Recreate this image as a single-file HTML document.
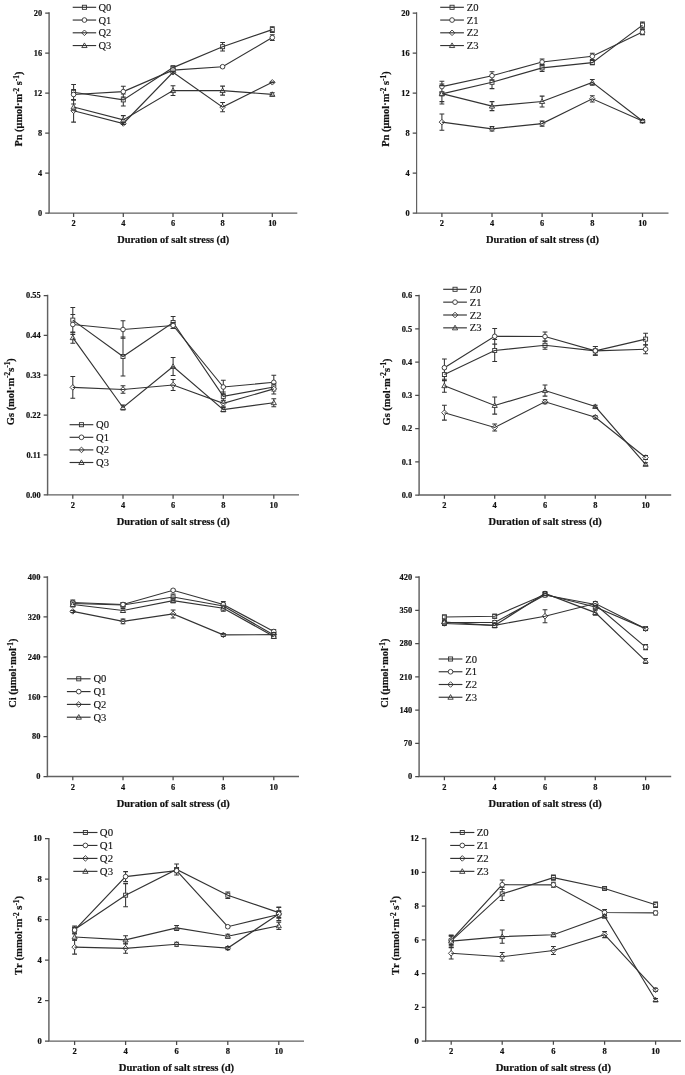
<!DOCTYPE html>
<html lang="en"><head><meta charset="utf-8"><title>Gas exchange under salt stress</title>
<style>
html,body{margin:0;padding:0;background:#fff}
body{width:685px;height:1075px;overflow:hidden}
svg{display:block}
text{font-family:"Liberation Serif","DejaVu Serif",serif;fill:#111}
.tk text{font-weight:bold;stroke:#111;stroke-width:0.2px}
.ti{font-weight:bold;stroke:#111;stroke-width:0.2px;font-kerning:none}
</style></head><body>
<svg width="685" height="1075" viewBox="0 0 685 1075">
<rect width="685" height="1075" fill="#fff"/>
<g stroke="#626262" stroke-width="1.45" fill="none">
<path d="M49.10 12.35V213.80M48.40 213.10H297.30"/>
</g>
<g stroke="#4a4a4a" stroke-width="1.25" fill="none">
<path d="M45.20 213.10H49.10M45.20 173.09H49.10M45.20 133.08H49.10M45.20 93.07H49.10M45.20 53.06H49.10M45.20 13.05H49.10M73.60 213.10V216.90M123.30 213.10V216.90M173.00 213.10V216.90M222.60 213.10V216.90M272.30 213.10V216.90"/></g>
<g class="tk" font-size="8.32">
<text x="42.10" y="215.90" text-anchor="end">0</text>
<text x="42.10" y="175.89" text-anchor="end">4</text>
<text x="42.10" y="135.88" text-anchor="end">8</text>
<text x="42.10" y="95.87" text-anchor="end">12</text>
<text x="42.10" y="55.86" text-anchor="end">16</text>
<text x="42.10" y="15.85" text-anchor="end">20</text>
<text x="73.60" y="226.40" text-anchor="middle">2</text>
<text x="123.30" y="226.40" text-anchor="middle">4</text>
<text x="173.00" y="226.40" text-anchor="middle">6</text>
<text x="222.60" y="226.40" text-anchor="middle">8</text>
<text x="272.30" y="226.40" text-anchor="middle">10</text>
</g>
<text class="ti" font-size="10.35" x="173.20" y="243.10" text-anchor="middle">Duration of salt stress (d)</text>
<text class="ti" font-size="10.35" transform="translate(21.70 109.10) rotate(-90)" text-anchor="middle">Pn (μmol·m<tspan dy="-3.1" font-size="7.3">-2</tspan><tspan dy="3.1"> s</tspan><tspan dy="-3.1" font-size="7.3">-1</tspan><tspan dy="3.1">)</tspan></text>
<path d="M73.60 84.40V100.20M123.30 93.90V105.90M173.00 66.80V68.40M222.60 42.40V51.00M272.30 26.80V32.40M73.60 89.50V99.50M123.30 86.30V96.90M173.00 69.10V71.10M222.60 65.70V67.70M272.30 34.70V40.50M73.60 99.50V122.10M123.30 122.50V124.50M173.00 71.50V73.10M222.60 102.40V111.80M272.30 81.90V82.70M73.60 103.90V110.10M123.30 115.60V124.20M173.00 85.80V95.40M222.60 86.10V95.10M272.30 92.80V96.00" stroke="#333" stroke-width="1.05" fill="none"/>
<g stroke="#333" stroke-width="0.9" fill="#fff"><rect x="71.60" y="90.30" width="4.00" height="4.00"/><rect x="121.30" y="97.90" width="4.00" height="4.00"/><rect x="171.00" y="65.60" width="4.00" height="4.00"/><rect x="220.60" y="44.70" width="4.00" height="4.00"/><rect x="270.30" y="27.60" width="4.00" height="4.00"/><rect x="82.38" y="5.25" width="4.10" height="4.10"/></g>
<polyline points="73.60,92.30 123.30,99.90 173.00,67.60 222.60,46.70 272.30,29.60" stroke="#333" stroke-width="1.15" fill="none"/><path d="M72.70 7.30h23.46" stroke="#333" stroke-width="1.15" fill="none"/>
<path d="M71.20 84.40h4.8M71.20 100.20h4.8M120.90 93.90h4.8M120.90 105.90h4.8M170.60 66.80h4.8M170.60 68.40h4.8M220.20 42.40h4.8M220.20 51.00h4.8M269.90 26.80h4.8M269.90 32.40h4.8" stroke="#333" stroke-width="1.05" fill="none"/>
<polyline points="73.60,94.50 123.30,91.60 173.00,70.10 222.60,66.70 272.30,37.60" stroke="#333" stroke-width="1.15" fill="none"/><path d="M72.70 20.05h23.46" stroke="#333" stroke-width="1.15" fill="none"/>
<path d="M71.20 89.50h4.8M71.20 99.50h4.8M120.90 86.30h4.8M120.90 96.90h4.8M170.60 69.10h4.8M170.60 71.10h4.8M220.20 65.70h4.8M220.20 67.70h4.8M269.90 34.70h4.8M269.90 40.50h4.8" stroke="#333" stroke-width="1.05" fill="none"/>
<g stroke="#333" stroke-width="0.9" fill="#fff"><circle cx="73.60" cy="94.50" r="2.30"/><circle cx="123.30" cy="91.60" r="2.30"/><circle cx="173.00" cy="70.10" r="2.30"/><circle cx="222.60" cy="66.70" r="2.30"/><circle cx="272.30" cy="37.60" r="2.30"/><circle cx="84.43" cy="20.05" r="2.35"/></g>
<g stroke="#333" stroke-width="0.9" fill="#fff"><path d="M70.85 110.80L73.60 108.05L76.35 110.80L73.60 113.55Z"/><path d="M120.55 123.50L123.30 120.75L126.05 123.50L123.30 126.25Z"/><path d="M170.25 72.30L173.00 69.55L175.75 72.30L173.00 75.05Z"/><path d="M219.85 107.10L222.60 104.35L225.35 107.10L222.60 109.85Z"/><path d="M269.55 82.30L272.30 79.55L275.05 82.30L272.30 85.05Z"/><path d="M81.63 32.80L84.43 30.00L87.23 32.80L84.43 35.60Z"/></g>
<polyline points="73.60,110.80 123.30,123.50 173.00,72.30 222.60,107.10 272.30,82.30" stroke="#333" stroke-width="1.15" fill="none"/><path d="M72.70 32.80h23.46" stroke="#333" stroke-width="1.15" fill="none"/>
<path d="M71.20 99.50h4.8M71.20 122.10h4.8M120.90 122.50h4.8M120.90 124.50h4.8M170.60 71.50h4.8M170.60 73.10h4.8M220.20 102.40h4.8M220.20 111.80h4.8M269.90 81.90h4.8M269.90 82.70h4.8" stroke="#333" stroke-width="1.05" fill="none"/>
<g stroke="#333" stroke-width="0.9" fill="#fff"><path d="M71.00 108.95L73.60 104.40L76.20 108.95Z"/><path d="M120.70 121.85L123.30 117.30L125.90 121.85Z"/><path d="M170.40 92.55L173.00 88.00L175.60 92.55Z"/><path d="M220.00 92.55L222.60 88.00L225.20 92.55Z"/><path d="M269.70 96.35L272.30 91.80L274.90 96.35Z"/><path d="M81.78 47.54L84.43 42.90L87.08 47.54Z"/></g>
<polyline points="73.60,107.00 123.30,119.90 173.00,90.60 222.60,90.60 272.30,94.40" stroke="#333" stroke-width="1.15" fill="none"/><path d="M72.70 45.55h23.46" stroke="#333" stroke-width="1.15" fill="none"/>
<path d="M71.20 103.90h4.8M71.20 110.10h4.8M120.90 115.60h4.8M120.90 124.20h4.8M170.60 85.80h4.8M170.60 95.40h4.8M220.20 86.10h4.8M220.20 95.10h4.8M269.90 92.80h4.8M269.90 96.00h4.8" stroke="#333" stroke-width="1.05" fill="none"/>
<g class="lg" stroke="#111" stroke-width="0.12" font-size="10.49">
<text x="98.44" y="10.80">Q0</text>
<text x="98.44" y="23.55">Q1</text>
<text x="98.44" y="36.30">Q2</text>
<text x="98.44" y="49.05">Q3</text>
</g>
<g stroke="#626262" stroke-width="1.2" fill="none">
<path d="M416.60 12.35V213.80M415.90 213.10H668.50"/>
</g>
<g stroke="#4a4a4a" stroke-width="1.25" fill="none">
<path d="M412.70 213.10H416.60M412.70 173.09H416.60M412.70 133.08H416.60M412.70 93.07H416.60M412.70 53.06H416.60M412.70 13.05H416.60M441.90 213.10V216.90M492.00 213.10V216.90M542.10 213.10V216.90M592.30 213.10V216.90M642.50 213.10V216.90"/></g>
<g class="tk" font-size="8.40">
<text x="409.60" y="215.90" text-anchor="end">0</text>
<text x="409.60" y="175.89" text-anchor="end">4</text>
<text x="409.60" y="135.88" text-anchor="end">8</text>
<text x="409.60" y="95.87" text-anchor="end">12</text>
<text x="409.60" y="55.86" text-anchor="end">16</text>
<text x="409.60" y="15.85" text-anchor="end">20</text>
<text x="441.90" y="226.40" text-anchor="middle">2</text>
<text x="492.00" y="226.40" text-anchor="middle">4</text>
<text x="542.10" y="226.40" text-anchor="middle">6</text>
<text x="592.30" y="226.40" text-anchor="middle">8</text>
<text x="642.50" y="226.40" text-anchor="middle">10</text>
</g>
<text class="ti" font-size="10.45" x="542.55" y="243.10" text-anchor="middle">Duration of salt stress (d)</text>
<text class="ti" font-size="10.45" transform="translate(388.60 109.10) rotate(-90)" text-anchor="middle">Pn (μmol·m<tspan dy="-3.1" font-size="7.3">-2</tspan><tspan dy="3.1"> s</tspan><tspan dy="-3.1" font-size="7.3">-1</tspan><tspan dy="3.1">)</tspan></text>
<path d="M441.90 83.90V103.90M492.00 76.00V88.60M542.10 64.40V71.40M592.30 60.40V64.80M642.50 22.10V28.10M441.90 81.30V91.90M492.00 71.70V79.70M542.10 58.90V65.10M592.30 53.20V59.40M642.50 29.60V34.60M441.90 114.00V130.20M492.00 126.60V131.00M542.10 121.10V126.10M592.30 95.70V101.90M642.50 119.50V122.50M441.90 85.60V101.60M492.00 101.60V110.60M542.10 96.10V106.90M592.30 79.50V85.30M642.50 119.50V122.50" stroke="#333" stroke-width="1.05" fill="none"/>
<g stroke="#333" stroke-width="0.9" fill="#fff"><rect x="439.90" y="91.90" width="4.00" height="4.00"/><rect x="490.00" y="80.30" width="4.00" height="4.00"/><rect x="540.10" y="65.90" width="4.00" height="4.00"/><rect x="590.30" y="60.60" width="4.00" height="4.00"/><rect x="640.50" y="23.10" width="4.00" height="4.00"/><rect x="450.00" y="5.25" width="4.10" height="4.10"/></g>
<polyline points="441.90,93.90 492.00,82.30 542.10,67.90 592.30,62.60 642.50,25.10" stroke="#333" stroke-width="1.15" fill="none"/><path d="M440.20 7.30h23.70" stroke="#333" stroke-width="1.15" fill="none"/>
<path d="M439.50 83.90h4.8M439.50 103.90h4.8M489.60 76.00h4.8M489.60 88.60h4.8M539.70 64.40h4.8M539.70 71.40h4.8M589.90 60.40h4.8M589.90 64.80h4.8M640.10 22.10h4.8M640.10 28.10h4.8" stroke="#333" stroke-width="1.05" fill="none"/>
<polyline points="441.90,86.60 492.00,75.70 542.10,62.00 592.30,56.30 642.50,32.10" stroke="#333" stroke-width="1.15" fill="none"/><path d="M440.20 20.05h23.70" stroke="#333" stroke-width="1.15" fill="none"/>
<path d="M439.50 81.30h4.8M439.50 91.90h4.8M489.60 71.70h4.8M489.60 79.70h4.8M539.70 58.90h4.8M539.70 65.10h4.8M589.90 53.20h4.8M589.90 59.40h4.8M640.10 29.60h4.8M640.10 34.60h4.8" stroke="#333" stroke-width="1.05" fill="none"/>
<g stroke="#333" stroke-width="0.9" fill="#fff"><circle cx="441.90" cy="86.60" r="2.30"/><circle cx="492.00" cy="75.70" r="2.30"/><circle cx="542.10" cy="62.00" r="2.30"/><circle cx="592.30" cy="56.30" r="2.30"/><circle cx="642.50" cy="32.10" r="2.30"/><circle cx="452.05" cy="20.05" r="2.35"/></g>
<g stroke="#333" stroke-width="0.9" fill="#fff"><path d="M439.15 122.10L441.90 119.35L444.65 122.10L441.90 124.85Z"/><path d="M489.25 128.80L492.00 126.05L494.75 128.80L492.00 131.55Z"/><path d="M539.35 123.60L542.10 120.85L544.85 123.60L542.10 126.35Z"/><path d="M589.55 98.80L592.30 96.05L595.05 98.80L592.30 101.55Z"/><path d="M639.75 121.00L642.50 118.25L645.25 121.00L642.50 123.75Z"/><path d="M449.25 32.80L452.05 30.00L454.85 32.80L452.05 35.60Z"/></g>
<polyline points="441.90,122.10 492.00,128.80 542.10,123.60 592.30,98.80 642.50,121.00" stroke="#333" stroke-width="1.15" fill="none"/><path d="M440.20 32.80h23.70" stroke="#333" stroke-width="1.15" fill="none"/>
<path d="M439.50 114.00h4.8M439.50 130.20h4.8M489.60 126.60h4.8M489.60 131.00h4.8M539.70 121.10h4.8M539.70 126.10h4.8M589.90 95.70h4.8M589.90 101.90h4.8M640.10 119.50h4.8M640.10 122.50h4.8" stroke="#333" stroke-width="1.05" fill="none"/>
<g stroke="#333" stroke-width="0.9" fill="#fff"><path d="M439.30 95.55L441.90 91.00L444.50 95.55Z"/><path d="M489.40 108.05L492.00 103.50L494.60 108.05Z"/><path d="M539.50 103.45L542.10 98.90L544.70 103.45Z"/><path d="M589.70 84.35L592.30 79.80L594.90 84.35Z"/><path d="M639.90 122.95L642.50 118.40L645.10 122.95Z"/><path d="M449.40 47.54L452.05 42.90L454.70 47.54Z"/></g>
<polyline points="441.90,93.60 492.00,106.10 542.10,101.50 592.30,82.40 642.50,121.00" stroke="#333" stroke-width="1.15" fill="none"/><path d="M440.20 45.55h23.70" stroke="#333" stroke-width="1.15" fill="none"/>
<path d="M439.50 85.60h4.8M439.50 101.60h4.8M489.60 101.60h4.8M489.60 110.60h4.8M539.70 96.10h4.8M539.70 106.90h4.8M589.90 79.50h4.8M589.90 85.30h4.8M640.10 119.50h4.8M640.10 122.50h4.8" stroke="#333" stroke-width="1.05" fill="none"/>
<g class="lg" stroke="#111" stroke-width="0.12" font-size="10.60">
<text x="466.70" y="10.80">Z0</text>
<text x="466.70" y="23.55">Z1</text>
<text x="466.70" y="36.30">Z2</text>
<text x="466.70" y="49.05">Z3</text>
</g>
<g stroke="#626262" stroke-width="1.45" fill="none">
<path d="M47.60 294.80V495.55M46.90 494.85H299.00"/>
</g>
<g stroke="#4a4a4a" stroke-width="1.25" fill="none">
<path d="M43.70 494.85H47.60M43.70 454.98H47.60M43.70 415.11H47.60M43.70 375.24H47.60M43.70 335.37H47.60M43.70 295.50H47.60M72.80 494.85V498.65M123.00 494.85V498.65M173.10 494.85V498.65M223.30 494.85V498.65M273.80 494.85V498.65"/></g>
<g class="tk" font-size="8.40">
<text x="40.60" y="497.65" text-anchor="end">0.00</text>
<text x="40.60" y="457.78" text-anchor="end">0.11</text>
<text x="40.60" y="417.91" text-anchor="end">0.22</text>
<text x="40.60" y="378.04" text-anchor="end">0.33</text>
<text x="40.60" y="338.17" text-anchor="end">0.44</text>
<text x="40.60" y="298.30" text-anchor="end">0.55</text>
<text x="72.80" y="508.15" text-anchor="middle">2</text>
<text x="123.00" y="508.15" text-anchor="middle">4</text>
<text x="173.10" y="508.15" text-anchor="middle">6</text>
<text x="223.30" y="508.15" text-anchor="middle">8</text>
<text x="273.80" y="508.15" text-anchor="middle">10</text>
</g>
<text class="ti" font-size="10.45" x="173.30" y="524.85" text-anchor="middle">Duration of salt stress (d)</text>
<text class="ti" font-size="10.45" transform="translate(13.50 391.65) rotate(-90)" text-anchor="middle">Gs (mol·m<tspan dy="-3.1" font-size="7.3">-2</tspan><tspan dy="3.1">s</tspan><tspan dy="-3.1" font-size="7.3">-1</tspan><tspan dy="3.1">)</tspan></text>
<path d="M72.80 307.50V332.70M123.00 337.00V376.00M173.10 316.50V328.50M223.30 391.90V400.90M273.80 383.00V391.00M72.80 314.50V334.50M123.00 320.70V338.30M173.10 322.50V328.50M223.30 380.30V393.70M273.80 375.30V389.30M72.80 376.50V398.30M123.00 385.70V393.30M173.10 379.50V390.50M223.30 400.30V406.30M273.80 383.90V393.90M72.80 332.10V343.30M123.00 405.00V410.00M173.10 357.50V375.50M223.30 407.60V411.60M273.80 398.70V406.70" stroke="#333" stroke-width="1.05" fill="none"/>
<g stroke="#333" stroke-width="0.9" fill="#fff"><rect x="70.80" y="318.10" width="4.00" height="4.00"/><rect x="121.00" y="354.50" width="4.00" height="4.00"/><rect x="171.10" y="320.50" width="4.00" height="4.00"/><rect x="221.30" y="394.40" width="4.00" height="4.00"/><rect x="271.80" y="385.00" width="4.00" height="4.00"/><rect x="79.40" y="422.65" width="4.10" height="4.10"/></g>
<polyline points="72.80,320.10 123.00,356.50 173.10,322.50 223.30,396.40 273.80,387.00" stroke="#333" stroke-width="1.15" fill="none"/><path d="M69.60 424.70h23.70" stroke="#333" stroke-width="1.15" fill="none"/>
<path d="M70.40 307.50h4.8M70.40 332.70h4.8M120.60 337.00h4.8M120.60 376.00h4.8M170.70 316.50h4.8M170.70 328.50h4.8M220.90 391.90h4.8M220.90 400.90h4.8M271.40 383.00h4.8M271.40 391.00h4.8" stroke="#333" stroke-width="1.05" fill="none"/>
<polyline points="72.80,324.50 123.00,329.50 173.10,325.50 223.30,387.00 273.80,382.30" stroke="#333" stroke-width="1.15" fill="none"/><path d="M69.60 437.30h23.70" stroke="#333" stroke-width="1.15" fill="none"/>
<path d="M70.40 314.50h4.8M70.40 334.50h4.8M120.60 320.70h4.8M120.60 338.30h4.8M170.70 322.50h4.8M170.70 328.50h4.8M220.90 380.30h4.8M220.90 393.70h4.8M271.40 375.30h4.8M271.40 389.30h4.8" stroke="#333" stroke-width="1.05" fill="none"/>
<g stroke="#333" stroke-width="0.9" fill="#fff"><circle cx="72.80" cy="324.50" r="2.30"/><circle cx="123.00" cy="329.50" r="2.30"/><circle cx="173.10" cy="325.50" r="2.30"/><circle cx="223.30" cy="387.00" r="2.30"/><circle cx="273.80" cy="382.30" r="2.30"/><circle cx="81.45" cy="437.30" r="2.35"/></g>
<g stroke="#333" stroke-width="0.9" fill="#fff"><path d="M70.05 387.40L72.80 384.65L75.55 387.40L72.80 390.15Z"/><path d="M120.25 389.50L123.00 386.75L125.75 389.50L123.00 392.25Z"/><path d="M170.35 385.00L173.10 382.25L175.85 385.00L173.10 387.75Z"/><path d="M220.55 403.30L223.30 400.55L226.05 403.30L223.30 406.05Z"/><path d="M271.05 388.90L273.80 386.15L276.55 388.90L273.80 391.65Z"/><path d="M78.65 449.90L81.45 447.10L84.25 449.90L81.45 452.70Z"/></g>
<polyline points="72.80,387.40 123.00,389.50 173.10,385.00 223.30,403.30 273.80,388.90" stroke="#333" stroke-width="1.15" fill="none"/><path d="M69.60 449.90h23.70" stroke="#333" stroke-width="1.15" fill="none"/>
<path d="M70.40 376.50h4.8M70.40 398.30h4.8M120.60 385.70h4.8M120.60 393.30h4.8M170.70 379.50h4.8M170.70 390.50h4.8M220.90 400.30h4.8M220.90 406.30h4.8M271.40 383.90h4.8M271.40 393.90h4.8" stroke="#333" stroke-width="1.05" fill="none"/>
<g stroke="#333" stroke-width="0.9" fill="#fff"><path d="M70.20 339.65L72.80 335.10L75.40 339.65Z"/><path d="M120.40 409.45L123.00 404.90L125.60 409.45Z"/><path d="M170.50 368.45L173.10 363.90L175.70 368.45Z"/><path d="M220.70 411.55L223.30 407.00L225.90 411.55Z"/><path d="M271.20 404.65L273.80 400.10L276.40 404.65Z"/><path d="M78.80 464.49L81.45 459.85L84.10 464.49Z"/></g>
<polyline points="72.80,337.70 123.00,407.50 173.10,366.50 223.30,409.60 273.80,402.70" stroke="#333" stroke-width="1.15" fill="none"/><path d="M69.60 462.50h23.70" stroke="#333" stroke-width="1.15" fill="none"/>
<path d="M70.40 332.10h4.8M70.40 343.30h4.8M120.60 405.00h4.8M120.60 410.00h4.8M170.70 357.50h4.8M170.70 375.50h4.8M220.90 407.60h4.8M220.90 411.60h4.8M271.40 398.70h4.8M271.40 406.70h4.8" stroke="#333" stroke-width="1.05" fill="none"/>
<g class="lg" stroke="#111" stroke-width="0.12" font-size="10.60">
<text x="96.10" y="428.20">Q0</text>
<text x="96.10" y="440.80">Q1</text>
<text x="96.10" y="453.40">Q2</text>
<text x="96.10" y="466.00">Q3</text>
</g>
<g stroke="#626262" stroke-width="1.45" fill="none">
<path d="M419.10 294.80V495.70M418.40 495.00H671.20"/>
</g>
<g stroke="#4a4a4a" stroke-width="1.25" fill="none">
<path d="M415.20 495.00H419.10M415.20 461.75H419.10M415.20 428.50H419.10M415.20 395.25H419.10M415.20 362.00H419.10M415.20 328.75H419.10M415.20 295.50H419.10M444.40 495.00V498.80M494.70 495.00V498.80M545.00 495.00V498.80M595.30 495.00V498.80M645.60 495.00V498.80"/></g>
<g class="tk" font-size="8.40">
<text x="412.10" y="497.80" text-anchor="end">0.0</text>
<text x="412.10" y="464.55" text-anchor="end">0.1</text>
<text x="412.10" y="431.30" text-anchor="end">0.2</text>
<text x="412.10" y="398.05" text-anchor="end">0.3</text>
<text x="412.10" y="364.80" text-anchor="end">0.4</text>
<text x="412.10" y="331.55" text-anchor="end">0.5</text>
<text x="412.10" y="298.30" text-anchor="end">0.6</text>
<text x="444.40" y="508.30" text-anchor="middle">2</text>
<text x="494.70" y="508.30" text-anchor="middle">4</text>
<text x="545.00" y="508.30" text-anchor="middle">6</text>
<text x="595.30" y="508.30" text-anchor="middle">8</text>
<text x="645.60" y="508.30" text-anchor="middle">10</text>
</g>
<text class="ti" font-size="10.45" x="545.15" y="525.00" text-anchor="middle">Duration of salt stress (d)</text>
<text class="ti" font-size="10.45" transform="translate(389.50 391.95) rotate(-90)" text-anchor="middle">Gs (mol·m<tspan dy="-3.1" font-size="7.3">-2</tspan><tspan dy="3.1">s</tspan><tspan dy="-3.1" font-size="7.3">-1</tspan><tspan dy="3.1">)</tspan></text>
<path d="M444.40 368.60V380.60M494.70 339.50V361.50M545.00 341.30V349.30M595.30 346.50V355.10M645.60 333.20V345.00M444.40 358.90V376.50M494.70 328.50V344.10M545.00 332.00V341.00M595.30 346.50V355.10M645.60 344.70V353.70M444.40 405.30V420.10M494.70 424.00V431.00M545.00 399.80V403.80M595.30 415.70V418.70M645.60 455.50V459.50M444.40 379.20V392.20M494.70 396.90V414.10M545.00 384.90V396.10M595.30 405.30V407.70M645.60 462.80V465.80" stroke="#333" stroke-width="1.05" fill="none"/>
<g stroke="#333" stroke-width="0.9" fill="#fff"><rect x="442.40" y="372.60" width="4.00" height="4.00"/><rect x="492.70" y="348.50" width="4.00" height="4.00"/><rect x="543.00" y="343.30" width="4.00" height="4.00"/><rect x="593.30" y="348.80" width="4.00" height="4.00"/><rect x="643.60" y="337.10" width="4.00" height="4.00"/><rect x="453.00" y="287.25" width="4.10" height="4.10"/></g>
<polyline points="444.40,374.60 494.70,350.50 545.00,345.30 595.30,350.80 645.60,339.10" stroke="#333" stroke-width="1.15" fill="none"/><path d="M443.20 289.30h23.70" stroke="#333" stroke-width="1.15" fill="none"/>
<path d="M442.00 368.60h4.8M442.00 380.60h4.8M492.30 339.50h4.8M492.30 361.50h4.8M542.60 341.30h4.8M542.60 349.30h4.8M592.90 346.50h4.8M592.90 355.10h4.8M643.20 333.20h4.8M643.20 345.00h4.8" stroke="#333" stroke-width="1.05" fill="none"/>
<polyline points="444.40,367.70 494.70,336.30 545.00,336.50 595.30,350.80 645.60,349.20" stroke="#333" stroke-width="1.15" fill="none"/><path d="M443.20 302.15h23.70" stroke="#333" stroke-width="1.15" fill="none"/>
<path d="M442.00 358.90h4.8M442.00 376.50h4.8M492.30 328.50h4.8M492.30 344.10h4.8M542.60 332.00h4.8M542.60 341.00h4.8M592.90 346.50h4.8M592.90 355.10h4.8M643.20 344.70h4.8M643.20 353.70h4.8" stroke="#333" stroke-width="1.05" fill="none"/>
<g stroke="#333" stroke-width="0.9" fill="#fff"><circle cx="444.40" cy="367.70" r="2.30"/><circle cx="494.70" cy="336.30" r="2.30"/><circle cx="545.00" cy="336.50" r="2.30"/><circle cx="595.30" cy="350.80" r="2.30"/><circle cx="645.60" cy="349.20" r="2.30"/><circle cx="455.05" cy="302.15" r="2.35"/></g>
<g stroke="#333" stroke-width="0.9" fill="#fff"><path d="M441.65 412.70L444.40 409.95L447.15 412.70L444.40 415.45Z"/><path d="M491.95 427.50L494.70 424.75L497.45 427.50L494.70 430.25Z"/><path d="M542.25 401.80L545.00 399.05L547.75 401.80L545.00 404.55Z"/><path d="M592.55 417.20L595.30 414.45L598.05 417.20L595.30 419.95Z"/><path d="M642.85 457.50L645.60 454.75L648.35 457.50L645.60 460.25Z"/><path d="M452.25 315.00L455.05 312.20L457.85 315.00L455.05 317.80Z"/></g>
<polyline points="444.40,412.70 494.70,427.50 545.00,401.80 595.30,417.20 645.60,457.50" stroke="#333" stroke-width="1.15" fill="none"/><path d="M443.20 315.00h23.70" stroke="#333" stroke-width="1.15" fill="none"/>
<path d="M442.00 405.30h4.8M442.00 420.10h4.8M492.30 424.00h4.8M492.30 431.00h4.8M542.60 399.80h4.8M542.60 403.80h4.8M592.90 415.70h4.8M592.90 418.70h4.8M643.20 455.50h4.8M643.20 459.50h4.8" stroke="#333" stroke-width="1.05" fill="none"/>
<g stroke="#333" stroke-width="0.9" fill="#fff"><path d="M441.80 387.65L444.40 383.10L447.00 387.65Z"/><path d="M492.10 407.45L494.70 402.90L497.30 407.45Z"/><path d="M542.40 392.45L545.00 387.90L547.60 392.45Z"/><path d="M592.70 408.45L595.30 403.90L597.90 408.45Z"/><path d="M643.00 466.25L645.60 461.70L648.20 466.25Z"/><path d="M452.40 329.84L455.05 325.20L457.70 329.84Z"/></g>
<polyline points="444.40,385.70 494.70,405.50 545.00,390.50 595.30,406.50 645.60,464.30" stroke="#333" stroke-width="1.15" fill="none"/><path d="M443.20 327.85h23.70" stroke="#333" stroke-width="1.15" fill="none"/>
<path d="M442.00 379.20h4.8M442.00 392.20h4.8M492.30 396.90h4.8M492.30 414.10h4.8M542.60 384.90h4.8M542.60 396.10h4.8M592.90 405.30h4.8M592.90 407.70h4.8M643.20 462.80h4.8M643.20 465.80h4.8" stroke="#333" stroke-width="1.05" fill="none"/>
<g class="lg" stroke="#111" stroke-width="0.12" font-size="10.60">
<text x="469.70" y="292.80">Z0</text>
<text x="469.70" y="305.65">Z1</text>
<text x="469.70" y="318.50">Z2</text>
<text x="469.70" y="331.35">Z3</text>
</g>
<g stroke="#626262" stroke-width="1.45" fill="none">
<path d="M47.40 576.30V777.20M46.70 776.50H299.00"/>
</g>
<g stroke="#4a4a4a" stroke-width="1.25" fill="none">
<path d="M43.50 776.50H47.40M43.50 736.60H47.40M43.50 696.70H47.40M43.50 656.80H47.40M43.50 616.90H47.40M43.50 577.00H47.40M72.80 776.50V780.30M123.00 776.50V780.30M173.10 776.50V780.30M223.30 776.50V780.30M273.80 776.50V780.30"/></g>
<g class="tk" font-size="8.40">
<text x="40.40" y="779.30" text-anchor="end">0</text>
<text x="40.40" y="739.40" text-anchor="end">80</text>
<text x="40.40" y="699.50" text-anchor="end">160</text>
<text x="40.40" y="659.60" text-anchor="end">240</text>
<text x="40.40" y="619.70" text-anchor="end">320</text>
<text x="40.40" y="579.80" text-anchor="end">400</text>
<text x="72.80" y="789.80" text-anchor="middle">2</text>
<text x="123.00" y="789.80" text-anchor="middle">4</text>
<text x="173.10" y="789.80" text-anchor="middle">6</text>
<text x="223.30" y="789.80" text-anchor="middle">8</text>
<text x="273.80" y="789.80" text-anchor="middle">10</text>
</g>
<text class="ti" font-size="10.45" x="173.20" y="806.50" text-anchor="middle">Duration of salt stress (d)</text>
<text class="ti" font-size="10.45" transform="translate(16.10 673.20) rotate(-90)" text-anchor="middle">Ci (μmol·mol<tspan dy="-3.1" font-size="7.3">-1</tspan><tspan dy="3.1">)</tspan></text>
<path d="M72.80 601.00V606.00M123.00 603.00V607.00M173.10 594.00V600.00M223.30 603.00V609.00M273.80 633.00V637.00M72.80 600.00V605.00M123.00 602.50V606.50M173.10 589.30V591.30M223.30 601.50V607.50M273.80 629.50V633.50M72.80 610.40V612.40M123.00 619.10V623.70M173.10 609.90V617.90M223.30 633.40V636.40M273.80 632.60V636.60M72.80 602.00V607.00M123.00 608.50V612.50M173.10 598.70V602.70M223.30 605.20V611.20M273.80 634.50V638.50" stroke="#333" stroke-width="1.05" fill="none"/>
<g stroke="#333" stroke-width="0.9" fill="#fff"><rect x="70.80" y="601.50" width="4.00" height="4.00"/><rect x="121.00" y="603.00" width="4.00" height="4.00"/><rect x="171.10" y="595.00" width="4.00" height="4.00"/><rect x="221.30" y="604.00" width="4.00" height="4.00"/><rect x="271.80" y="633.00" width="4.00" height="4.00"/><rect x="76.70" y="676.75" width="4.10" height="4.10"/></g>
<polyline points="72.80,603.50 123.00,605.00 173.10,597.00 223.30,606.00 273.80,635.00" stroke="#333" stroke-width="1.15" fill="none"/><path d="M66.90 678.80h23.70" stroke="#333" stroke-width="1.15" fill="none"/>
<path d="M70.40 601.00h4.8M70.40 606.00h4.8M120.60 603.00h4.8M120.60 607.00h4.8M170.70 594.00h4.8M170.70 600.00h4.8M220.90 603.00h4.8M220.90 609.00h4.8M271.40 633.00h4.8M271.40 637.00h4.8" stroke="#333" stroke-width="1.05" fill="none"/>
<polyline points="72.80,602.50 123.00,604.50 173.10,590.30 223.30,604.50 273.80,631.50" stroke="#333" stroke-width="1.15" fill="none"/><path d="M66.90 691.60h23.70" stroke="#333" stroke-width="1.15" fill="none"/>
<path d="M70.40 600.00h4.8M70.40 605.00h4.8M120.60 602.50h4.8M120.60 606.50h4.8M170.70 589.30h4.8M170.70 591.30h4.8M220.90 601.50h4.8M220.90 607.50h4.8M271.40 629.50h4.8M271.40 633.50h4.8" stroke="#333" stroke-width="1.05" fill="none"/>
<g stroke="#333" stroke-width="0.9" fill="#fff"><circle cx="72.80" cy="602.50" r="2.30"/><circle cx="123.00" cy="604.50" r="2.30"/><circle cx="173.10" cy="590.30" r="2.30"/><circle cx="223.30" cy="604.50" r="2.30"/><circle cx="273.80" cy="631.50" r="2.30"/><circle cx="78.75" cy="691.60" r="2.35"/></g>
<g stroke="#333" stroke-width="0.9" fill="#fff"><path d="M70.05 611.40L72.80 608.65L75.55 611.40L72.80 614.15Z"/><path d="M120.25 621.40L123.00 618.65L125.75 621.40L123.00 624.15Z"/><path d="M170.35 613.90L173.10 611.15L175.85 613.90L173.10 616.65Z"/><path d="M220.55 634.90L223.30 632.15L226.05 634.90L223.30 637.65Z"/><path d="M271.05 634.60L273.80 631.85L276.55 634.60L273.80 637.35Z"/><path d="M75.95 704.40L78.75 701.60L81.55 704.40L78.75 707.20Z"/></g>
<polyline points="72.80,611.40 123.00,621.40 173.10,613.90 223.30,634.90 273.80,634.60" stroke="#333" stroke-width="1.15" fill="none"/><path d="M66.90 704.40h23.70" stroke="#333" stroke-width="1.15" fill="none"/>
<path d="M70.40 610.40h4.8M70.40 612.40h4.8M120.60 619.10h4.8M120.60 623.70h4.8M170.70 609.90h4.8M170.70 617.90h4.8M220.90 633.40h4.8M220.90 636.40h4.8M271.40 632.60h4.8M271.40 636.60h4.8" stroke="#333" stroke-width="1.05" fill="none"/>
<g stroke="#333" stroke-width="0.9" fill="#fff"><path d="M70.20 606.45L72.80 601.90L75.40 606.45Z"/><path d="M120.40 612.45L123.00 607.90L125.60 612.45Z"/><path d="M170.50 602.65L173.10 598.10L175.70 602.65Z"/><path d="M220.70 610.15L223.30 605.60L225.90 610.15Z"/><path d="M271.20 638.45L273.80 633.90L276.40 638.45Z"/><path d="M76.10 719.19L78.75 714.55L81.40 719.19Z"/></g>
<polyline points="72.80,604.50 123.00,610.50 173.10,600.70 223.30,608.20 273.80,636.50" stroke="#333" stroke-width="1.15" fill="none"/><path d="M66.90 717.20h23.70" stroke="#333" stroke-width="1.15" fill="none"/>
<path d="M70.40 602.00h4.8M70.40 607.00h4.8M120.60 608.50h4.8M120.60 612.50h4.8M170.70 598.70h4.8M170.70 602.70h4.8M220.90 605.20h4.8M220.90 611.20h4.8M271.40 634.50h4.8M271.40 638.50h4.8" stroke="#333" stroke-width="1.05" fill="none"/>
<g class="lg" stroke="#111" stroke-width="0.12" font-size="10.60">
<text x="93.40" y="682.30">Q0</text>
<text x="93.40" y="695.10">Q1</text>
<text x="93.40" y="707.90">Q2</text>
<text x="93.40" y="720.70">Q3</text>
</g>
<g stroke="#626262" stroke-width="1.45" fill="none">
<path d="M419.10 576.30V777.20M418.40 776.50H671.20"/>
</g>
<g stroke="#4a4a4a" stroke-width="1.25" fill="none">
<path d="M415.20 776.50H419.10M415.20 743.25H419.10M415.20 710.00H419.10M415.20 676.75H419.10M415.20 643.50H419.10M415.20 610.25H419.10M415.20 577.00H419.10M444.40 776.50V780.30M494.70 776.50V780.30M545.00 776.50V780.30M595.30 776.50V780.30M645.60 776.50V780.30"/></g>
<g class="tk" font-size="8.40">
<text x="412.10" y="779.30" text-anchor="end">0</text>
<text x="412.10" y="746.05" text-anchor="end">70</text>
<text x="412.10" y="712.80" text-anchor="end">140</text>
<text x="412.10" y="679.55" text-anchor="end">210</text>
<text x="412.10" y="646.30" text-anchor="end">280</text>
<text x="412.10" y="613.05" text-anchor="end">350</text>
<text x="412.10" y="579.80" text-anchor="end">420</text>
<text x="444.40" y="789.80" text-anchor="middle">2</text>
<text x="494.70" y="789.80" text-anchor="middle">4</text>
<text x="545.00" y="789.80" text-anchor="middle">6</text>
<text x="595.30" y="789.80" text-anchor="middle">8</text>
<text x="645.60" y="789.80" text-anchor="middle">10</text>
</g>
<text class="ti" font-size="10.45" x="545.15" y="806.50" text-anchor="middle">Duration of salt stress (d)</text>
<text class="ti" font-size="10.45" transform="translate(388.10 673.20) rotate(-90)" text-anchor="middle">Ci (μmol·mol<tspan dy="-3.1" font-size="7.3">-1</tspan><tspan dy="3.1">)</tspan></text>
<path d="M444.40 615.00V619.00M494.70 614.20V618.20M545.00 592.50V596.50M595.30 605.00V609.00M645.60 627.10V630.10M444.40 620.50V624.50M494.70 620.50V624.50M545.00 593.00V597.00M595.30 602.50V606.50M645.60 644.60V649.60M444.40 621.50V625.50M494.70 622.80V627.80M545.00 609.70V622.70M595.30 601.50V605.50M645.60 627.30V630.30M444.40 620.00V624.00M494.70 623.50V627.50M545.00 591.50V595.50M595.30 610.10V615.10M645.60 658.40V663.40" stroke="#333" stroke-width="1.05" fill="none"/>
<g stroke="#333" stroke-width="0.9" fill="#fff"><rect x="442.40" y="615.00" width="4.00" height="4.00"/><rect x="492.70" y="614.20" width="4.00" height="4.00"/><rect x="543.00" y="592.50" width="4.00" height="4.00"/><rect x="593.30" y="605.00" width="4.00" height="4.00"/><rect x="643.60" y="626.60" width="4.00" height="4.00"/><rect x="448.50" y="656.95" width="4.10" height="4.10"/></g>
<polyline points="444.40,617.00 494.70,616.20 545.00,594.50 595.30,607.00 645.60,628.60" stroke="#333" stroke-width="1.15" fill="none"/><path d="M438.70 659.00h23.70" stroke="#333" stroke-width="1.15" fill="none"/>
<path d="M442.00 615.00h4.8M442.00 619.00h4.8M492.30 614.20h4.8M492.30 618.20h4.8M542.60 592.50h4.8M542.60 596.50h4.8M592.90 605.00h4.8M592.90 609.00h4.8M643.20 627.10h4.8M643.20 630.10h4.8" stroke="#333" stroke-width="1.05" fill="none"/>
<polyline points="444.40,622.50 494.70,622.50 545.00,595.00 595.30,604.50 645.60,647.10" stroke="#333" stroke-width="1.15" fill="none"/><path d="M438.70 671.75h23.70" stroke="#333" stroke-width="1.15" fill="none"/>
<path d="M442.00 620.50h4.8M442.00 624.50h4.8M492.30 620.50h4.8M492.30 624.50h4.8M542.60 593.00h4.8M542.60 597.00h4.8M592.90 602.50h4.8M592.90 606.50h4.8M643.20 644.60h4.8M643.20 649.60h4.8" stroke="#333" stroke-width="1.05" fill="none"/>
<g stroke="#333" stroke-width="0.9" fill="#fff"><circle cx="444.40" cy="622.50" r="2.30"/><circle cx="494.70" cy="622.50" r="2.30"/><circle cx="545.00" cy="595.00" r="2.30"/><circle cx="595.30" cy="604.50" r="2.30"/><circle cx="645.60" cy="647.10" r="2.30"/><circle cx="450.55" cy="671.75" r="2.35"/></g>
<g stroke="#333" stroke-width="0.9" fill="#fff"><path d="M441.65 623.50L444.40 620.75L447.15 623.50L444.40 626.25Z"/><path d="M491.95 625.30L494.70 622.55L497.45 625.30L494.70 628.05Z"/><path d="M542.25 616.20L545.00 613.45L547.75 616.20L545.00 618.95Z"/><path d="M592.55 603.50L595.30 600.75L598.05 603.50L595.30 606.25Z"/><path d="M642.85 628.80L645.60 626.05L648.35 628.80L645.60 631.55Z"/><path d="M447.75 684.50L450.55 681.70L453.35 684.50L450.55 687.30Z"/></g>
<polyline points="444.40,623.50 494.70,625.30 545.00,616.20 595.30,603.50 645.60,628.80" stroke="#333" stroke-width="1.15" fill="none"/><path d="M438.70 684.50h23.70" stroke="#333" stroke-width="1.15" fill="none"/>
<path d="M442.00 621.50h4.8M442.00 625.50h4.8M492.30 622.80h4.8M492.30 627.80h4.8M542.60 609.70h4.8M542.60 622.70h4.8M592.90 601.50h4.8M592.90 605.50h4.8M643.20 627.30h4.8M643.20 630.30h4.8" stroke="#333" stroke-width="1.05" fill="none"/>
<g stroke="#333" stroke-width="0.9" fill="#fff"><path d="M441.80 623.95L444.40 619.40L447.00 623.95Z"/><path d="M492.10 627.45L494.70 622.90L497.30 627.45Z"/><path d="M542.40 595.45L545.00 590.90L547.60 595.45Z"/><path d="M592.70 614.55L595.30 610.00L597.90 614.55Z"/><path d="M643.00 662.85L645.60 658.30L648.20 662.85Z"/><path d="M447.90 699.24L450.55 694.60L453.20 699.24Z"/></g>
<polyline points="444.40,622.00 494.70,625.50 545.00,593.50 595.30,612.60 645.60,660.90" stroke="#333" stroke-width="1.15" fill="none"/><path d="M438.70 697.25h23.70" stroke="#333" stroke-width="1.15" fill="none"/>
<path d="M442.00 620.00h4.8M442.00 624.00h4.8M492.30 623.50h4.8M492.30 627.50h4.8M542.60 591.50h4.8M542.60 595.50h4.8M592.90 610.10h4.8M592.90 615.10h4.8M643.20 658.40h4.8M643.20 663.40h4.8" stroke="#333" stroke-width="1.05" fill="none"/>
<g class="lg" stroke="#111" stroke-width="0.12" font-size="10.60">
<text x="465.20" y="662.50">Z0</text>
<text x="465.20" y="675.25">Z1</text>
<text x="465.20" y="688.00">Z2</text>
<text x="465.20" y="700.75">Z3</text>
</g>
<g stroke="#626262" stroke-width="1.45" fill="none">
<path d="M48.90 837.90V1041.80M48.20 1041.10H304.00"/>
</g>
<g stroke="#4a4a4a" stroke-width="1.25" fill="none">
<path d="M45.00 1041.10H48.90M45.00 1000.60H48.90M45.00 960.10H48.90M45.00 919.60H48.90M45.00 879.10H48.90M45.00 838.60H48.90M74.60 1041.10V1044.90M125.60 1041.10V1044.90M176.60 1041.10V1044.90M227.80 1041.10V1044.90M278.80 1041.10V1044.90"/></g>
<g class="tk" font-size="8.57">
<text x="41.90" y="1043.90" text-anchor="end">0</text>
<text x="41.90" y="1003.40" text-anchor="end">2</text>
<text x="41.90" y="962.90" text-anchor="end">4</text>
<text x="41.90" y="922.40" text-anchor="end">6</text>
<text x="41.90" y="881.90" text-anchor="end">8</text>
<text x="41.90" y="841.40" text-anchor="end">10</text>
<text x="74.60" y="1054.40" text-anchor="middle">2</text>
<text x="125.60" y="1054.40" text-anchor="middle">4</text>
<text x="176.60" y="1054.40" text-anchor="middle">6</text>
<text x="227.80" y="1054.40" text-anchor="middle">8</text>
<text x="278.80" y="1054.40" text-anchor="middle">10</text>
</g>
<text class="ti" font-size="10.66" x="176.45" y="1071.10" text-anchor="middle">Duration of salt stress (d)</text>
<text class="ti" font-size="10.66" transform="translate(21.70 935.50) rotate(-90)" text-anchor="middle">Tr (mmol·m<tspan dy="-3.1" font-size="7.3">-2</tspan><tspan dy="3.1"> s</tspan><tspan dy="-3.1" font-size="7.3">-1</tspan><tspan dy="3.1">)</tspan></text>
<path d="M74.60 926.00V933.00M125.60 883.60V906.80M176.60 864.00V875.00M227.80 891.90V898.50M278.80 907.00V918.20M74.60 927.10V933.10M125.60 871.60V881.60M176.60 868.70V872.70M227.80 925.70V927.70M278.80 911.50V917.50M74.60 940.10V954.10M125.60 943.30V953.30M176.60 942.30V946.30M227.80 946.60V949.60M278.80 907.40V920.40M74.60 934.00V940.00M125.60 935.80V944.00M176.60 925.40V930.40M227.80 934.20V938.20M278.80 922.10V929.50" stroke="#333" stroke-width="1.05" fill="none"/>
<g stroke="#333" stroke-width="0.9" fill="#fff"><rect x="72.60" y="927.50" width="4.00" height="4.00"/><rect x="123.60" y="893.20" width="4.00" height="4.00"/><rect x="174.60" y="867.50" width="4.00" height="4.00"/><rect x="225.80" y="893.20" width="4.00" height="4.00"/><rect x="276.80" y="910.60" width="4.00" height="4.00"/><rect x="83.34" y="830.45" width="4.10" height="4.10"/></g>
<polyline points="74.60,929.50 125.60,895.20 176.60,869.50 227.80,895.20 278.80,912.60" stroke="#333" stroke-width="1.15" fill="none"/><path d="M73.30 832.50h24.17" stroke="#333" stroke-width="1.15" fill="none"/>
<path d="M72.20 926.00h4.8M72.20 933.00h4.8M123.20 883.60h4.8M123.20 906.80h4.8M174.20 864.00h4.8M174.20 875.00h4.8M225.40 891.90h4.8M225.40 898.50h4.8M276.40 907.00h4.8M276.40 918.20h4.8" stroke="#333" stroke-width="1.05" fill="none"/>
<polyline points="74.60,930.10 125.60,876.60 176.60,870.70 227.80,926.70 278.80,914.50" stroke="#333" stroke-width="1.15" fill="none"/><path d="M73.30 845.45h24.17" stroke="#333" stroke-width="1.15" fill="none"/>
<path d="M72.20 927.10h4.8M72.20 933.10h4.8M123.20 871.60h4.8M123.20 881.60h4.8M174.20 868.70h4.8M174.20 872.70h4.8M225.40 925.70h4.8M225.40 927.70h4.8M276.40 911.50h4.8M276.40 917.50h4.8" stroke="#333" stroke-width="1.05" fill="none"/>
<g stroke="#333" stroke-width="0.9" fill="#fff"><circle cx="74.60" cy="930.10" r="2.30"/><circle cx="125.60" cy="876.60" r="2.30"/><circle cx="176.60" cy="870.70" r="2.30"/><circle cx="227.80" cy="926.70" r="2.30"/><circle cx="278.80" cy="914.50" r="2.30"/><circle cx="85.39" cy="845.45" r="2.35"/></g>
<g stroke="#333" stroke-width="0.9" fill="#fff"><path d="M71.85 947.10L74.60 944.35L77.35 947.10L74.60 949.85Z"/><path d="M122.85 948.30L125.60 945.55L128.35 948.30L125.60 951.05Z"/><path d="M173.85 944.30L176.60 941.55L179.35 944.30L176.60 947.05Z"/><path d="M225.05 948.10L227.80 945.35L230.55 948.10L227.80 950.85Z"/><path d="M276.05 913.90L278.80 911.15L281.55 913.90L278.80 916.65Z"/><path d="M82.59 858.40L85.39 855.60L88.19 858.40L85.39 861.20Z"/></g>
<polyline points="74.60,947.10 125.60,948.30 176.60,944.30 227.80,948.10 278.80,913.90" stroke="#333" stroke-width="1.15" fill="none"/><path d="M73.30 858.40h24.17" stroke="#333" stroke-width="1.15" fill="none"/>
<path d="M72.20 940.10h4.8M72.20 954.10h4.8M123.20 943.30h4.8M123.20 953.30h4.8M174.20 942.30h4.8M174.20 946.30h4.8M225.40 946.60h4.8M225.40 949.60h4.8M276.40 907.40h4.8M276.40 920.40h4.8" stroke="#333" stroke-width="1.05" fill="none"/>
<g stroke="#333" stroke-width="0.9" fill="#fff"><path d="M72.00 938.95L74.60 934.40L77.20 938.95Z"/><path d="M123.00 941.85L125.60 937.30L128.20 941.85Z"/><path d="M174.00 929.85L176.60 925.30L179.20 929.85Z"/><path d="M225.20 938.15L227.80 933.60L230.40 938.15Z"/><path d="M276.20 927.75L278.80 923.20L281.40 927.75Z"/><path d="M82.74 873.34L85.39 868.70L88.04 873.34Z"/></g>
<polyline points="74.60,937.00 125.60,939.90 176.60,927.90 227.80,936.20 278.80,925.80" stroke="#333" stroke-width="1.15" fill="none"/><path d="M73.30 871.35h24.17" stroke="#333" stroke-width="1.15" fill="none"/>
<path d="M72.20 934.00h4.8M72.20 940.00h4.8M123.20 935.80h4.8M123.20 944.00h4.8M174.20 925.40h4.8M174.20 930.40h4.8M225.40 934.20h4.8M225.40 938.20h4.8M276.40 922.10h4.8M276.40 929.50h4.8" stroke="#333" stroke-width="1.05" fill="none"/>
<g class="lg" stroke="#111" stroke-width="0.12" font-size="10.81">
<text x="99.83" y="836.00">Q0</text>
<text x="99.83" y="848.95">Q1</text>
<text x="99.83" y="861.90">Q2</text>
<text x="99.83" y="874.85">Q3</text>
</g>
<g stroke="#626262" stroke-width="1.45" fill="none">
<path d="M425.70 837.85V1041.70M425.00 1041.00H681.00"/>
</g>
<g stroke="#4a4a4a" stroke-width="1.25" fill="none">
<path d="M421.80 1041.00H425.70M421.80 1007.26H425.70M421.80 973.52H425.70M421.80 939.77H425.70M421.80 906.03H425.70M421.80 872.29H425.70M421.80 838.55H425.70M451.20 1041.00V1044.80M502.20 1041.00V1044.80M553.40 1041.00V1044.80M604.60 1041.00V1044.80M655.60 1041.00V1044.80"/></g>
<g class="tk" font-size="8.57">
<text x="418.70" y="1043.80" text-anchor="end">0</text>
<text x="418.70" y="1010.06" text-anchor="end">2</text>
<text x="418.70" y="976.32" text-anchor="end">4</text>
<text x="418.70" y="942.57" text-anchor="end">6</text>
<text x="418.70" y="908.83" text-anchor="end">8</text>
<text x="418.70" y="875.09" text-anchor="end">10</text>
<text x="418.70" y="841.35" text-anchor="end">12</text>
<text x="451.20" y="1054.30" text-anchor="middle">2</text>
<text x="502.20" y="1054.30" text-anchor="middle">4</text>
<text x="553.40" y="1054.30" text-anchor="middle">6</text>
<text x="604.60" y="1054.30" text-anchor="middle">8</text>
<text x="655.60" y="1054.30" text-anchor="middle">10</text>
</g>
<text class="ti" font-size="10.66" x="553.35" y="1071.00" text-anchor="middle">Duration of salt stress (d)</text>
<text class="ti" font-size="10.66" transform="translate(398.70 935.50) rotate(-90)" text-anchor="middle">Tr (mmol·m<tspan dy="-3.1" font-size="7.3">-2</tspan><tspan dy="3.1"> s</tspan><tspan dy="-3.1" font-size="7.3">-1</tspan><tspan dy="3.1">)</tspan></text>
<path d="M451.20 936.30V945.30M502.20 887.30V900.50M553.40 875.10V880.10M604.60 887.00V890.00M655.60 902.10V907.50M451.20 935.60V944.60M502.20 880.00V889.40M553.40 882.30V887.30M604.60 909.50V915.50M655.60 910.90V914.90M451.20 947.60V959.00M502.20 952.40V961.00M553.40 946.50V954.50M604.60 931.60V937.60M655.60 988.30V991.30M451.20 935.10V947.10M502.20 929.90V943.30M553.40 932.70V936.70M604.60 914.70V917.70M655.60 998.50V1001.50" stroke="#333" stroke-width="1.05" fill="none"/>
<g stroke="#333" stroke-width="0.9" fill="#fff"><rect x="449.20" y="938.80" width="4.00" height="4.00"/><rect x="500.20" y="891.90" width="4.00" height="4.00"/><rect x="551.40" y="875.60" width="4.00" height="4.00"/><rect x="602.60" y="886.50" width="4.00" height="4.00"/><rect x="653.60" y="902.80" width="4.00" height="4.00"/><rect x="460.24" y="830.45" width="4.10" height="4.10"/></g>
<polyline points="451.20,940.80 502.20,893.90 553.40,877.60 604.60,888.50 655.60,904.80" stroke="#333" stroke-width="1.15" fill="none"/><path d="M450.20 832.50h24.17" stroke="#333" stroke-width="1.15" fill="none"/>
<path d="M448.80 936.30h4.8M448.80 945.30h4.8M499.80 887.30h4.8M499.80 900.50h4.8M551.00 875.10h4.8M551.00 880.10h4.8M602.20 887.00h4.8M602.20 890.00h4.8M653.20 902.10h4.8M653.20 907.50h4.8" stroke="#333" stroke-width="1.05" fill="none"/>
<polyline points="451.20,940.10 502.20,884.70 553.40,884.80 604.60,912.50 655.60,912.90" stroke="#333" stroke-width="1.15" fill="none"/><path d="M450.20 845.45h24.17" stroke="#333" stroke-width="1.15" fill="none"/>
<path d="M448.80 935.60h4.8M448.80 944.60h4.8M499.80 880.00h4.8M499.80 889.40h4.8M551.00 882.30h4.8M551.00 887.30h4.8M602.20 909.50h4.8M602.20 915.50h4.8M653.20 910.90h4.8M653.20 914.90h4.8" stroke="#333" stroke-width="1.05" fill="none"/>
<g stroke="#333" stroke-width="0.9" fill="#fff"><circle cx="451.20" cy="940.10" r="2.30"/><circle cx="502.20" cy="884.70" r="2.30"/><circle cx="553.40" cy="884.80" r="2.30"/><circle cx="604.60" cy="912.50" r="2.30"/><circle cx="655.60" cy="912.90" r="2.30"/><circle cx="462.29" cy="845.45" r="2.35"/></g>
<g stroke="#333" stroke-width="0.9" fill="#fff"><path d="M448.45 953.30L451.20 950.55L453.95 953.30L451.20 956.05Z"/><path d="M499.45 956.70L502.20 953.95L504.95 956.70L502.20 959.45Z"/><path d="M550.65 950.50L553.40 947.75L556.15 950.50L553.40 953.25Z"/><path d="M601.85 934.60L604.60 931.85L607.35 934.60L604.60 937.35Z"/><path d="M652.85 989.80L655.60 987.05L658.35 989.80L655.60 992.55Z"/><path d="M459.49 858.40L462.29 855.60L465.09 858.40L462.29 861.20Z"/></g>
<polyline points="451.20,953.30 502.20,956.70 553.40,950.50 604.60,934.60 655.60,989.80" stroke="#333" stroke-width="1.15" fill="none"/><path d="M450.20 858.40h24.17" stroke="#333" stroke-width="1.15" fill="none"/>
<path d="M448.80 947.60h4.8M448.80 959.00h4.8M499.80 952.40h4.8M499.80 961.00h4.8M551.00 946.50h4.8M551.00 954.50h4.8M602.20 931.60h4.8M602.20 937.60h4.8M653.20 988.30h4.8M653.20 991.30h4.8" stroke="#333" stroke-width="1.05" fill="none"/>
<g stroke="#333" stroke-width="0.9" fill="#fff"><path d="M448.60 943.05L451.20 938.50L453.80 943.05Z"/><path d="M499.60 938.55L502.20 934.00L504.80 938.55Z"/><path d="M550.80 936.65L553.40 932.10L556.00 936.65Z"/><path d="M602.00 918.15L604.60 913.60L607.20 918.15Z"/><path d="M653.00 1001.95L655.60 997.40L658.20 1001.95Z"/><path d="M459.64 873.34L462.29 868.70L464.94 873.34Z"/></g>
<polyline points="451.20,941.10 502.20,936.60 553.40,934.70 604.60,916.20 655.60,1000.00" stroke="#333" stroke-width="1.15" fill="none"/><path d="M450.20 871.35h24.17" stroke="#333" stroke-width="1.15" fill="none"/>
<path d="M448.80 935.10h4.8M448.80 947.10h4.8M499.80 929.90h4.8M499.80 943.30h4.8M551.00 932.70h4.8M551.00 936.70h4.8M602.20 914.70h4.8M602.20 917.70h4.8M653.20 998.50h4.8M653.20 1001.50h4.8" stroke="#333" stroke-width="1.05" fill="none"/>
<g class="lg" stroke="#111" stroke-width="0.12" font-size="10.81">
<text x="476.63" y="836.00">Z0</text>
<text x="476.63" y="848.95">Z1</text>
<text x="476.63" y="861.90">Z2</text>
<text x="476.63" y="874.85">Z3</text>
</g>
</svg>
</body></html>
